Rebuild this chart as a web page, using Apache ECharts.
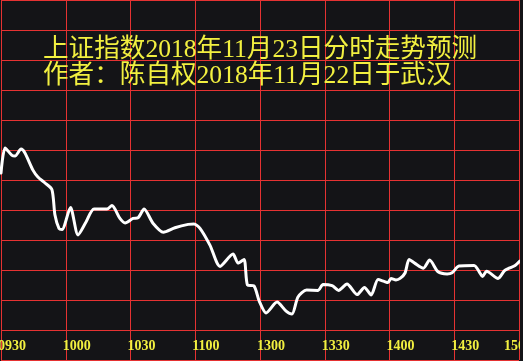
<!DOCTYPE html>
<html><head><meta charset="utf-8">
<script src="https://cdn.jsdelivr.net/npm/echarts@6/dist/echarts.min.js"></script>
<style>html,body{margin:0;padding:0;background:#141417;}#c{width:523px;height:361px;}</style>
</head><body><div id="c"></div>
<script>
var titleLine1 = '上证指数2018年11月23日分时走势预测';
var titleLine2 = '作者：陈自权2018年11月22日于武汉';
var tickMinutes = [0, 30, 60, 90, 120, 150, 180, 210, 240];
var tickLabels = ['0930', '1000', '1030', '1100', '1300', '1330', '1400', '1430', '1500'];
// minutes since 09:30 (trading minutes, lunch break removed)
var minutes = [0, 1.9, 5.1, 6.5, 9.3, 11.1, 14.8, 17.1, 20.4, 23.6, 25, 26.9, 28.3, 32.2, 35.7, 39.4, 43.1, 49.1, 51.4, 55.1, 57.5, 61.2, 63.5, 66.3, 70.4, 75.2, 80.6, 86.7, 89.4, 92.2, 96.8, 101.5, 107.5, 109.8, 112.6, 114.2, 117.2, 119.6, 122.8, 127.9, 132.1, 134.8, 137.6, 141.6, 146.9, 149.2, 153.4, 156.4, 160.3, 165, 168.4, 171.5, 174.7, 177.5, 179.3, 180.7, 183, 184.9, 187.2, 189.1, 191.8, 195.7, 198.6, 202.5, 206.7, 209, 212.2, 219.2, 222, 223.1, 225, 230.3, 233.3, 235.4, 238.2, 240.4];
var prices = [2652.3, 2660.7, 2658.2, 2658.0, 2660.3, 2659.0, 2653.3, 2651.0, 2649.0, 2646.8, 2638.3, 2633.8, 2633.5, 2640.8, 2631.7, 2636.0, 2640.3, 2640.3, 2641.5, 2637.2, 2635.7, 2637.2, 2637.4, 2640.3, 2635.6, 2632.6, 2634.1, 2635.2, 2635.3, 2633.9, 2628.3, 2621.2, 2625.3, 2622.3, 2623.5, 2615.0, 2614.7, 2609.7, 2605.7, 2609.3, 2606.3, 2605.3, 2611.0, 2613.3, 2613.2, 2615.2, 2614.8, 2613.2, 2615.3, 2611.8, 2614.2, 2611.7, 2616.8, 2616.2, 2615.8, 2617.2, 2616.7, 2617.2, 2619.0, 2623.5, 2622.2, 2620.6, 2623.3, 2619.4, 2618.7, 2619.1, 2621.3, 2621.5, 2618.9, 2617.8, 2619.6, 2617.2, 2619.8, 2620.6, 2621.5, 2623.0];

var chart = echarts.init(document.getElementById('c'), null, {renderer: 'canvas'});
var pts = minutes.map(function (m, i) { return [m, prices[i]]; });
var bg = '#141417';
var red = '#e53232';
var yellow = '#f2f040';
var titleFont = '"Liberation Serif", "Noto Sans CJK SC"';

chart.setOption({
  backgroundColor: bg,
  animation: false,
  title: [
    {text: titleLine1, left: 43, top: 37.5, padding: 0,
     textStyle: {color: yellow, fontSize: 25.6, fontWeight: 'normal', fontFamily: titleFont}},
    {text: titleLine2, left: 43, top: 63, padding: 0,
     textStyle: {color: yellow, fontSize: 25.6, fontWeight: 'normal', fontFamily: titleFont}}
  ],
  grid: {left: 1, right: 4, top: 0, bottom: 1, containLabel: false},
  xAxis: {
    type: 'value', min: 0, max: 240, interval: 30,
    axisLine: {show: false}, axisTick: {show: false}, axisLabel: {show: false},
    splitLine: {show: true, lineStyle: {color: red, width: 1}}
  },
  yAxis: {
    type: 'value', min: 2590, max: 2710, interval: 10,
    axisLine: {show: false}, axisTick: {show: false}, axisLabel: {show: false},
    splitLine: {show: true, lineStyle: {color: red, width: 1}}
  },
  series: [{
    type: 'line', data: pts, showSymbol: false, smooth: 0.25,
    lineStyle: {color: '#ffffff', width: 3, join: 'round', cap: 'round'},
    clip: true
  }]
});

// time labels placed in the bottom row, just left of each vertical grid line
var labelRowValue = 2595; // middle of the bottom grid row
var graphics = tickMinutes.map(function (m, i) {
  var p = chart.convertToPixel({gridIndex: 0}, [m, labelRowValue]);
  var shift = (i === tickMinutes.length - 1) ? 15 : 3;
  return {
    type: 'text', x: p[0] - shift, y: p[1] + 1.5, silent: true, z: 50,
    style: {text: tickLabels[i], fill: yellow, align: 'left', verticalAlign: 'middle',
            font: 'bold 14px "Liberation Serif", serif'}
  };
});
// mask beyond the right border, where the original picture is cut off
var edge = chart.convertToPixel({gridIndex: 0}, [240, 2590]);
graphics.push({type: 'rect', silent: true, z: 100,
  shape: {x: Math.round(edge[0]) + 1, y: 0, width: 10, height: 400},
  style: {fill: bg}});
chart.setOption({graphic: graphics});
</script></body></html>
